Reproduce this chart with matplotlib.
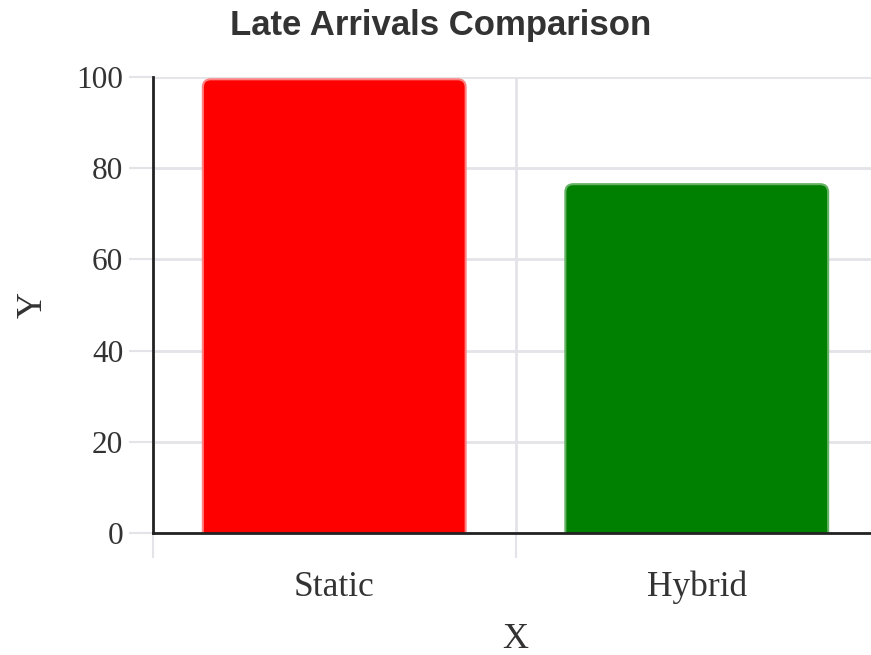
import matplotlib
matplotlib.use("Agg")
import matplotlib.pyplot as plt
from matplotlib.patches import FancyBboxPatch

categories = ["Static", "Hybrid"]
values = [99.5, 76.5]
colors = ["#ff0000", "#008000"]
edge_colors = ["#ff8080", "#66b366"]
yticks = [0, 20, 40, 60, 80, 100]

W, H = 871, 655
fig = plt.figure(figsize=(W / 100, H / 100), dpi=100)
left, right, bottom, top = 153, 878, 533, 77
ax = fig.add_axes([left / W, 1 - bottom / H, (right - left) / W, (bottom - top) / H])

x = list(range(len(categories)))
bars = ax.bar(x, values, width=0.725, color=colors)
ax.set_xlim(-0.5, len(categories) - 0.5)
ax.set_ylim(0, 100)

# replace bars with rounded-top versions
px_x = (right - left) / 2.0
px_y = (bottom - top) / 100.0
r_px = 8
for b, c, ec in zip(bars, colors, edge_colors):
    b.set_visible(False)
    bx, bw, bh = b.get_x(), b.get_width(), b.get_height()
    pad = r_px / px_x
    patch = FancyBboxPatch((bx + pad, -10), bw - 2 * pad, bh + 10 - r_px / px_y,
                           boxstyle=f"round,pad={pad}",
                           mutation_aspect=px_x / px_y,
                           facecolor=c, edgecolor=ec, linewidth=1.5, zorder=3)
    ax.add_patch(patch)

grid_c = "#e4e4e8"
ax.set_yticks(yticks)
ax.set_yticklabels([str(v) for v in yticks])
ax.set_xticks([-0.5, 0.5, 1.5])
ax.set_xticklabels([])
ax.set_xticks(x, minor=True)
ax.set_xticklabels(categories, minor=True)
ax.grid(True, which="major", color=grid_c, linewidth=2, zorder=0)
ax.set_axisbelow(True)

ax.tick_params(axis="y", which="major", length=17.5, width=1.5, color=grid_c, pad=4,
               labelsize=22.5, labelcolor="#333333")
ax.tick_params(axis="x", which="major", length=18, width=1.5, color=grid_c)
ax.tick_params(axis="x", which="minor", length=0, pad=27, labelsize=25.5, labelcolor="#333333")
for lab in ax.get_yticklabels() + ax.get_xticklabels(minor=True):
    lab.set_fontfamily("Liberation Serif")

for s in ["top", "right"]:
    ax.spines[s].set_visible(False)
for s in ["left", "bottom"]:
    ax.spines[s].set_color("#222222")
    ax.spines[s].set_linewidth(2)
    ax.spines[s].set_zorder(5)

fig.text(33 / W, 1 - 305 / H, "Y", rotation=90, ha="center", va="center",
         family="Liberation Serif", size=26, color="#333333")
fig.text(515 / W, 1 - 639 / H, "X", ha="center", va="center",
         family="Liberation Serif", size=26, color="#333333")
fig.text(441 / W, 1 - 26 / H, "Late Arrivals Comparison", ha="center", va="center",
         family="Liberation Sans", weight="bold", size=25, color="#333333")

fig.savefig("out.png", dpi=100)
